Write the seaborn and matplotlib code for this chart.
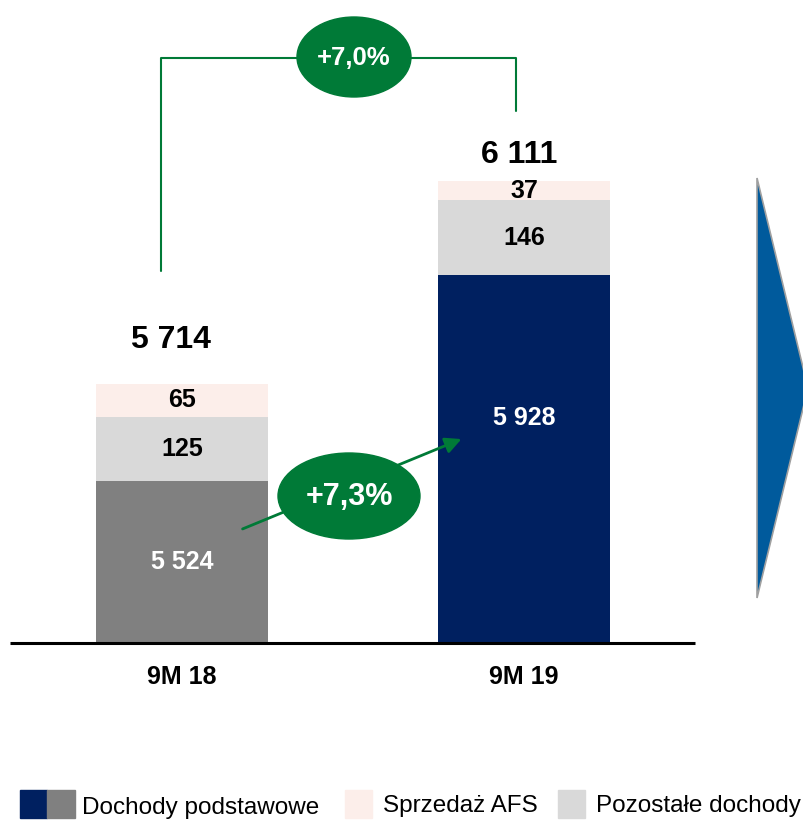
import matplotlib
matplotlib.use("Agg")
import matplotlib.pyplot as plt
import seaborn as sns
import pandas as pd
import numpy as np
from matplotlib.patches import Ellipse, Polygon, Rectangle, FancyArrowPatch

sns.set_theme(style="white")
plt.rcParams['font.family'] = ['Liberation Sans', 'DejaVu Sans']

# ---- data ----
categories = ["9M 18", "9M 19"]
core_income = [5524, 5928]      # Dochody podstawowe
other_income = [125, 146]       # Pozostałe dochody
afs_sale = [65, 37]             # Sprzedaż AFS
totals = [5714, 6111]
change_total = "+7,0%"
change_core = "+7,3%"
legend_labels = ["Dochody podstawowe", "Sprzedaż AFS", "Pozostałe dochody"]

base_value = 5206  # truncated axis baseline

core_colors = ["#808080", "#002060"]
other_color = "#D9D9D9"
afs_color = "#FCEEEA"
green = "#007A37"

def fmt(v):
    return f"{v:,}".replace(",", " ")

df = pd.DataFrame({
    "cat": categories,
    "core": np.array(core_income) - base_value,
    "core_other": np.array(core_income) + np.array(other_income) - base_value,
    "top": np.array(core_income) + np.array(other_income) + np.array(afs_sale) - base_value,
})

W, H = 804, 822
fig = plt.figure(figsize=(W / 100, H / 100), dpi=100)
ax = fig.add_axes([0, 0, 1, 1])
ax.patch.set_alpha(0)

bw = 172 / 342
sns.barplot(data=df, x="cat", y="top", color=afs_color, width=bw, ax=ax, saturation=1,
            linewidth=0)
sns.barplot(data=df, x="cat", y="core_other", color=other_color, width=bw, ax=ax, saturation=1,
            linewidth=0)
sns.barplot(data=df, x="cat", y="core", hue="cat", palette=core_colors, width=bw, ax=ax,
            saturation=1, legend=False, linewidth=0)

pxu = 0.51
ax.set_ylim(-(H - 643) / pxu, 643 / pxu)
ax.set_xlim(-182 / 342, (W - 182) / 342)
ax.axis("off")

# label placement tweaks (pixels)
core_label_frac = [0.5, 0.61]
total_gap_px = [44, 26]
total_dx = [-11 / 342, -5 / 342]

for i, c in enumerate(categories):
    core = core_income[i] - base_value
    oth = other_income[i]
    afs = afs_sale[i]
    ax.text(i, core * core_label_frac[i], fmt(core_income[i]), ha="center", va="center",
            color="white", fontsize=18, fontweight="bold")
    ax.text(i, core + oth / 2, fmt(oth), ha="center", va="center", color="black",
            fontsize=18, fontweight="bold")
    ax.text(i, core + oth + afs / 2, fmt(afs), ha="center", va="center", color="black",
            fontsize=18, fontweight="bold")
    ax.text(i + total_dx[i], totals[i] - base_value + total_gap_px[i] / pxu, fmt(totals[i]),
            ha="center", va="center", color="black", fontsize=23, fontweight="bold")
    ax.text(i, -34 / pxu, c, ha="center", va="center", color="black",
            fontsize=18, fontweight="bold")

# overlay axes in pixel coordinates for decorations
ov = fig.add_axes([0, 0, 1, 1])
ov.set_xlim(0, W)
ov.set_ylim(H, 0)
ov.axis("off")
ov.patch.set_alpha(0)

# baseline
ov.plot([10, 695], [643, 643], color="black", lw=2.2, solid_capstyle="butt")

# bracket
ov.plot([161, 161, 516, 516], [271, 58, 58, 111], color=green, lw=1.5)
ov.add_patch(Ellipse((354, 57), 114, 80, color=green, zorder=3))
ov.text(354, 58, change_total, ha="center", va="center", color="white",
        fontsize=18.5, fontweight="bold", zorder=4)

# core growth arrow
ov.add_patch(FancyArrowPatch((240, 530), (464, 438), arrowstyle="-|>", mutation_scale=24,
                             color=green, lw=2, zorder=3))
ov.add_patch(Ellipse((349, 496), 142, 86, color=green, zorder=4))
ov.text(349, 497, change_core, ha="center", va="center", color="white",
        fontsize=22, fontweight="bold", zorder=5)

# right triangle
ov.add_patch(Polygon([[757, 178], [808, 388], [757, 598]], closed=True,
                     facecolor="#005A9C", edgecolor="#A0A0A0", lw=1.2, zorder=3))

# legend
ov.add_patch(Rectangle((20, 790), 27, 28, color=core_colors[1]))
ov.add_patch(Rectangle((47, 790), 28, 28, color=core_colors[0]))
ov.text(82, 808, legend_labels[0], ha="left", va="center", fontsize=17.5, color="black")
ov.add_patch(Rectangle((345, 790), 27, 28, color=afs_color))
ov.text(383, 806, legend_labels[1], ha="left", va="center", fontsize=17.5, color="black")
ov.add_patch(Rectangle((558, 790), 27, 28, color=other_color))
ov.text(596, 806, legend_labels[2], ha="left", va="center", fontsize=17.5, color="black")

fig.savefig("out.png", dpi=100)
